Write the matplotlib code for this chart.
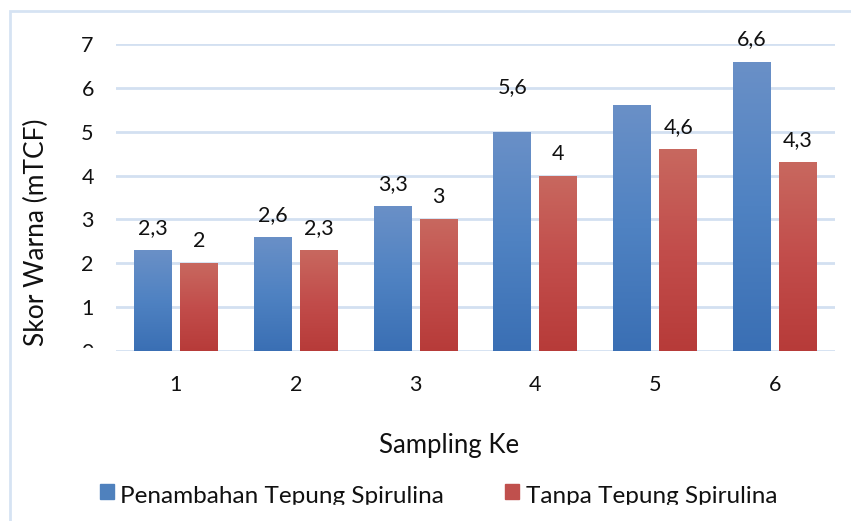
import matplotlib

matplotlib.use("Agg")
import matplotlib.pyplot as plt
import numpy as np
from matplotlib.colors import LinearSegmentedColormap
from matplotlib.patches import Rectangle

plt.rcParams["font.family"] = ["Lato", "DejaVu Sans"]

# data
categories = ["1", "2", "3", "4", "5", "6"]
penambahan = [2.3, 2.6, 3.3, 5.0, 5.6, 6.6]
tanpa = [2.0, 2.3, 3.0, 4.0, 4.6, 4.3]
# value labels as printed (the "5,6" label sits over bar 4, bar 5 has none)
penambahan_labels = ["2,3", "2,6", "3,3", "5,6", "", "6,6"]
tanpa_labels = ["2", "2,3", "3", "4", "4,6", "4,3"]
series_names = ["Penambahan Tepung Spirulina", "Tanpa Tepung Spirulina"]
yticks = [0, 1, 2, 3, 4, 5, 6, 7]

W, H = 851, 521
fig = plt.figure(figsize=(W / 100, H / 100), dpi=100)
ax = fig.add_axes([116 / W, 1 - 351 / H, (835 - 116) / W, (351 - 44) / H])

blue_cmap = LinearSegmentedColormap.from_list("b", ["#3a6fb4", "#4f82c2", "#6a90c7"])
red_cmap = LinearSegmentedColormap.from_list("r", ["#b73b39", "#c24d4b", "#c8685f"])

x = np.arange(1, len(categories) + 1)
bw = 0.317
off = 0.192
grad = np.linspace(0, 1, 256).reshape(-1, 1)


def gradient_bars(xs, vals, cmap):
    bars = ax.bar(xs, vals, width=bw, color="none", edgecolor="none", zorder=2)
    for b in bars:
        x0, y0, w, h = b.get_x(), b.get_y(), b.get_width(), b.get_height()
        im = ax.imshow(grad, cmap=cmap, origin="lower", aspect="auto",
                       extent=[x0, x0 + w, y0, y0 + h], zorder=2)
        im.set_clip_path(b)
    return bars


gradient_bars(x - off, penambahan, blue_cmap)
gradient_bars(x + off, tanpa, red_cmap)

# value labels, centred ~22 px above the bar tops
for i in range(len(categories)):
    lift = 45 if i == 3 else 22
    if penambahan_labels[i]:
        ax.annotate(penambahan_labels[i], (x[i] - off, penambahan[i]),
                    xytext=(0, lift * 0.72), textcoords="offset points",
                    ha="center", va="center", fontsize=15.5, color="#111111")
    ax.annotate(tanpa_labels[i], (x[i] + off, tanpa[i]),
                xytext=(0, 22 * 0.72), textcoords="offset points",
                ha="center", va="center", fontsize=15.5, color="#111111")

ax.set_xlim(0.5, len(categories) + 0.5)
ax.set_ylim(0, 7)
ax.set_yticks(yticks)
ax.set_xticks(x)
ax.set_xticklabels(categories)
ax.yaxis.grid(True, color="#d3e0f1", lw=2)
ax.set_axisbelow(True)
for s in ax.spines.values():
    s.set_visible(False)
ax.tick_params(length=0, labelsize=15.5, colors="#111111")
ax.tick_params(axis="y", pad=16)
ax.tick_params(axis="x", pad=17)

fig.text(449 / W, 1 - 445 / H, "Sampling Ke", ha="center", va="center",
         fontsize=18.5, color="#111111")
fig.text(36 / W, 1 - 232 / H, "Skor Warna (mTCF)", ha="center", va="center",
         rotation=90, fontsize=19, color="#111111")

# legend
for (px, tx), name, c in zip([(100, 120), (505, 526)], series_names, ["#4f81bd", "#c0504d"]):
    fig.patches.append(Rectangle((px / W, 1 - 499 / H), 14 / W, 15 / H,
                                 transform=fig.transFigure, color=c))
    fig.text(tx / W, 1 - 503 / H, name, ha="left", va="baseline",
             fontsize=17.5, color="#111111")

# the "0" tick label and the legend text are cut off in the reference
fig.add_artist(Rectangle((60 / W, 1 - 380 / H), 50 / W, 32 / H,
                         transform=fig.transFigure, color="white", zorder=10))
fig.add_artist(Rectangle((12 / W, 0), 1, 16 / H,
                         transform=fig.transFigure, color="white", zorder=10))

# chart frame (continues past the right and bottom edges)
fig.add_artist(Rectangle((10 / W, -0.1), 1.2, 1 - 11 / H + 0.1,
                         transform=fig.transFigure, fill=False,
                         edgecolor="#d6e3f3", lw=2, zorder=11))

fig.savefig("out.png", dpi=100)
